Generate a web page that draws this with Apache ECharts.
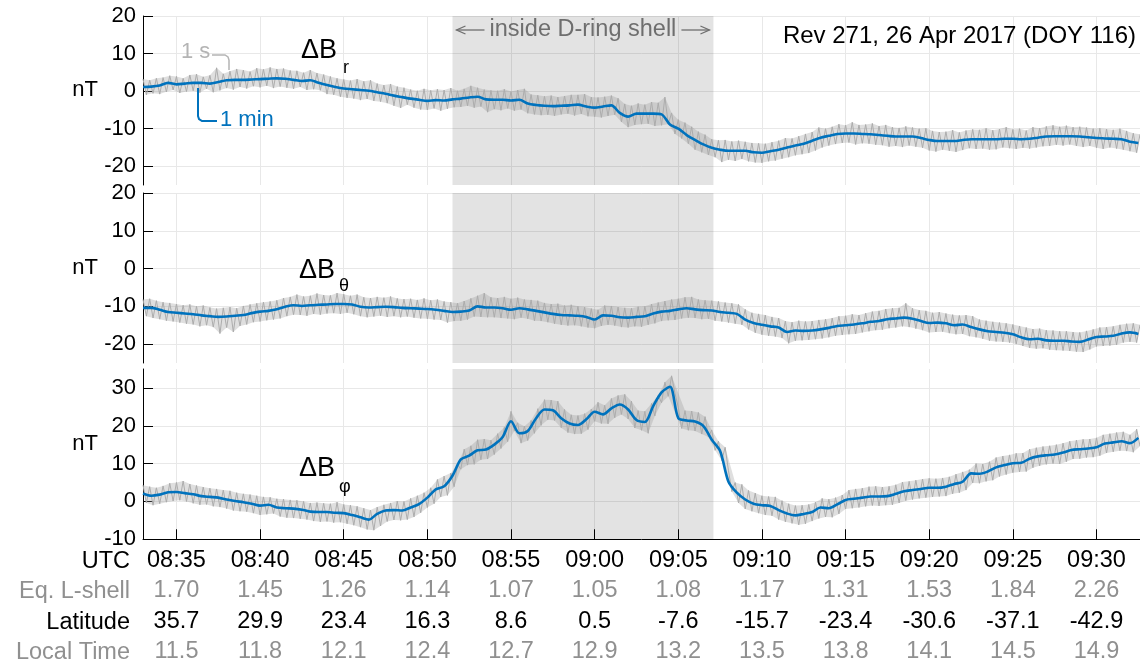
<!DOCTYPE html>
<html>
<head>
<meta charset="utf-8">
<script src="https://cdn.jsdelivr.net/npm/echarts@6/dist/echarts.min.js"></script>
<style>html,body{margin:0;padding:0;background:#fff}#c{width:1140px;height:664px}</style>
</head>
<body>
<div id="c"></div>
<script>
const FONT = "'Liberation Sans', Arial, Helvetica, sans-serif";

// time axis in minutes after 08:00 UTC
const tStart = 33;
const tEnd = 92.6;
const blueStep = 0.5;   // 1-min averaged trace, sampled every 30 s
const grayStep = 0.2;   // 1-s trace, sampled every 12 s
const tickTimes = [35, 40, 45, 50, 55, 60, 65, 70, 75, 80, 85, 90];
const utcLabels = ['08:35','08:40','08:45','08:50','08:55','09:00','09:05','09:10','09:15','09:20','09:25','09:30'];
const lShell = ['1.70','1.45','1.26','1.14','1.07','1.05','1.08','1.17','1.31','1.53','1.84','2.26'];
const latitude = ['35.7','29.9','23.4','16.3','8.6','0.5','-7.6','-15.7','-23.4','-30.6','-37.1','-42.9'];
const localTime = ['11.5','11.8','12.1','12.4','12.7','12.9','13.2','13.5','13.8','14.1','14.5','14.9'];
const rowNames = ['UTC', 'Eq. L-shell', 'Latitude', 'Local Time'];

const yTicks12 = [-20, -10, 0, 10, 20];
const yTicks3 = [-10, 0, 10, 20, 30];
const dRing = [51.5, 67.1];

// 1-min (blue) traces
const brMin = [1.1,1.2,1.5,2.2,1.8,2.0,2.2,2.2,2.0,2.4,
 2.9,3.0,3.0,3.1,3.2,3.3,3.4,3.3,3.0,2.7,
 2.9,2.2,1.6,1.1,0.7,0.5,0.3,0.1,-0.3,-0.7,
 -1.2,-1.6,-2.0,-2.3,-2.6,-2.4,-2.5,-2.2,-2.0,-1.7,
 -1.5,-2.2,-2.3,-2.3,-2.5,-2.3,-3.3,-3.7,-3.9,-4.0,
 -3.9,-3.8,-3.6,-4.1,-4.4,-4.1,-3.8,-5.8,-6.8,-6.0,
 -6.0,-6.0,-6.2,-8.9,-10.0,-11.7,-13.0,-14.2,-15.1,-15.6,
 -15.9,-15.9,-15.9,-16.3,-16.4,-16.0,-15.6,-15.0,-14.5,-14.0,
 -13.2,-12.4,-11.9,-11.4,-11.3,-11.3,-11.4,-11.5,-11.7,-11.9,
 -12.1,-12.1,-12.1,-12.5,-13.0,-13.3,-13.3,-13.3,-13.0,-12.8,
 -12.8,-12.8,-12.8,-12.7,-12.7,-12.8,-12.7,-12.4,-12.1,-12.0,
 -12.0,-12.0,-12.1,-12.3,-12.5,-12.6,-12.7,-12.8,-13.5,-13.8];
const bthMin = [-10.4,-10.4,-10.9,-11.5,-11.7,-11.9,-12.1,-12.4,-12.6,-12.8,
 -12.7,-12.5,-12.3,-11.8,-11.4,-11.2,-10.8,-10.1,-9.7,-9.9,
 -9.7,-9.6,-9.5,-9.4,-9.4,-9.5,-10.1,-10.3,-10.2,-10.1,
 -10.2,-10.4,-10.5,-10.6,-10.7,-10.9,-11.2,-11.5,-11.4,-11.1,
 -10.0,-10.3,-10.3,-10.5,-10.9,-10.5,-10.8,-11.2,-11.6,-12.0,
 -12.3,-12.4,-12.5,-12.8,-13.5,-12.4,-12.5,-12.9,-13.0,-12.8,
 -12.6,-11.9,-11.4,-11.2,-10.8,-10.5,-10.8,-11.0,-11.1,-11.5,
 -11.7,-12.0,-13.5,-14.4,-14.9,-15.3,-15.6,-16.8,-16.4,-16.5,
 -16.4,-16.1,-15.7,-15.2,-15.0,-14.8,-14.5,-14.1,-13.9,-13.4,
 -13.2,-13.0,-13.3,-13.9,-14.4,-14.3,-14.5,-15.0,-14.8,-15.5,
 -16.1,-16.6,-16.8,-17.0,-17.4,-18.2,-18.7,-18.6,-19.0,-19.1,
 -19.1,-19.3,-19.4,-18.8,-18.1,-18.0,-17.8,-17.2,-16.9,-17.3];
const bphMin = [2.1,1.5,1.8,2.4,2.5,2.2,1.9,1.4,1.2,1.0,
 0.5,0.1,-0.2,-0.6,-1.1,-0.9,-1.6,-1.8,-1.9,-2.2,
 -2.7,-2.8,-2.8,-3.0,-3.1,-3.6,-4.2,-4.8,-3.3,-2.4,
 -2.3,-2.4,-1.6,-0.7,1.0,3.2,4.0,6.8,11.1,12.1,
 13.5,13.7,15.0,17.0,21.2,18.0,18.6,22.0,24.3,24.1,
 22.0,20.6,20.2,21.7,23.7,23.0,24.6,25.6,24.3,21.5,
 21.0,25.2,28.8,30.3,22.0,21.4,21.1,19.9,16.3,13.3,
 5.2,2.3,0.5,-0.6,-1.0,-1.2,-2.3,-3.2,-3.7,-3.3,
 -2.8,-1.6,-1.8,-0.8,0.4,0.7,1.0,1.3,1.3,1.4,
 2.0,2.7,3.0,3.3,3.6,3.6,3.9,4.6,5.2,7.4,
 7.3,7.9,9.0,9.6,10.1,10.2,11.3,11.9,12.2,12.4,
 12.9,13.6,13.8,14.0,14.3,15.3,15.6,15.9,15.4,16.8];

// 1-s (gray) traces
const brSec = [3.2,-1.0,2.9,-0.6,3.4, -0.8,3.6,-0.2,4.1,0.3, 3.9,-0.5,3.4,-0.1,4.3, 0.1,4.5,-0.4,3.8,0.6,
 4.2,-0.3,6.2,0.2,4.6, 0.8,5.3,0.4,5.9,1.1, 5.6,0.7,5.2,1.3,6.1, 1.0,5.8,1.4,6.3,0.8,
 5.9,1.2,6.0,0.9,5.5, 0.6,5.4,1.1,4.9,0.3, 5.6,0.5,4.8,0.2,4.4, -0.8,3.9,-1.0,3.4,-1.5,
 3.1,-1.8,2.8,-2.0,3.2, -2.4,2.6,-2.1,2.9,-2.6, 2.0,-2.8,1.6,-3.2,1.9, -3.9,1.2,-4.5,0.9,-3.6,
 0.4,-4.4,0.1,-4.9,0.6, -5.0,0.2,-4.6,0.5,-5.2, 0.3,-4.7,0.8,-4.3,0.1, -4.2,0.6,-3.9,1.4,-4.4,
 0.9,-4.1,0.4,-5.6,0.2, -4.8,0.1,-5.1,0.5,-4.6, -0.1,-5.2,0.3,-4.9,0.6, -5.9,-0.9,-6.2,-1.1,-6.4,
 -1.4,-6.3,-1.2,-6.6,-1.6, -6.2,-1.3,-6.0,-1.0,-6.5, -1.0,-6.1,-0.8,-6.7,-1.6, -6.8,-1.7,-7.0,-1.5,-6.6,
 -1.2,-6.3,-1.9,-8.2,-3.4, -9.6,-3.9,-9.0,-3.3,-8.8, -3.6,-8.7,-2.9,-9.3,-3.1, -9.1,-1.6,-8.8,-5.8,-11.4,
 -7.6,-12.6,-8.4,-14.0,-9.5, -15.6,-10.8,-16.3,-11.6,-17.0, -12.8,-17.6,-13.1,-18.9,-13.0, -18.3,-13.4,-18.6,-13.2,-18.1,
 -13.5,-18.7,-13.8,-19.0,-13.9, -19.1,-14.0,-18.7,-13.6,-18.5, -13.2,-18.0,-12.5,-17.6,-12.6, -17.1,-12.0,-16.8,-11.4,-16.5,
 -10.9,-15.8,-9.7,-15.0,-10.0, -14.5,-9.5,-14.1,-8.8,-13.8, -9.1,-13.7,-8.3,-14.2,-9.0, -13.9,-8.9,-14.0,-8.6,-14.3,
 -9.3,-14.4,-9.0,-14.8,-9.6, -14.6,-9.8,-14.9,-9.4,-14.5, -9.7,-14.8,-10.0,-15.1,-9.9, -15.8,-10.6,-16.1,-10.9,-15.6,
 -10.8,-15.9,-10.4,-16.2,-11.0, -15.7,-10.5,-15.2,-10.2,-15.4, -10.3,-15.3,-9.9,-15.6,-10.4, -15.5,-10.1,-15.0,-9.6,-15.2,
 -10.2,-15.4,-10.0,-15.1,-10.5, -15.3,-9.6,-15.0,-9.9,-14.7, -9.4,-14.6,-9.1,-14.3,-9.5, -14.5,-9.2,-14.2,-9.6,-14.6,
 -9.5,-14.9,-9.7,-14.6,-10.0, -15.1,-9.9,-15.4,-10.1,-15.0, -10.3,-15.3,-10.0,-15.6,-10.6, -16.0,-11.2,-16.4,-11.5];
const bthSec = [-8.2,-12.6,-8.0,-13.1,-8.5, -13.4,-8.9,-13.8,-9.1,-14.0, -9.4,-14.3,-9.7,-14.6,-9.5, -14.8,-10.0,-15.3,-9.8,-15.0,
 -10.3,-15.5,-10.6,-17.2,-10.4, -15.6,-10.2,-16.8,-10.5,-15.2, -9.9,-14.8,-9.5,-14.2,-9.2, -14.0,-8.9,-13.7,-8.7,-13.5,
 -8.4,-13.2,-7.8,-12.6,-7.5, -12.2,-6.9,-12.3,-7.4,-12.5, -7.2,-12.0,-6.6,-12.2,-7.0, -11.9,-7.1,-11.8,-6.5,-12.0,
 -6.8,-11.7,-7.2,-12.1,-6.9, -12.6,-7.6,-12.9,-7.8,-12.7, -7.5,-12.5,-7.7,-12.8,-7.4, -12.6,-7.9,-12.9,-8.1,-12.7,
 -8.0,-13.0,-8.3,-13.2,-7.9, -13.3,-8.4,-13.5,-8.2,-13.6, -8.7,-14.3,-8.9,-13.9,-9.2, -13.8,-8.6,-13.5,-7.9,-12.7,
 -7.2,-12.8,-6.5,-12.9,-7.6, -12.9,-7.8,-13.1,-7.5,-13.2, -8.0,-13.4,-7.7,-13.0,-8.2, -13.3,-8.3,-13.8,-8.5,-13.9,
 -9.1,-14.2,-9.4,-14.6,-9.3, -14.9,-9.8,-15.1,-9.6,-15.0, -10.0,-15.3,-10.2,-15.6,-10.6, -15.8,-10.9,-15.2,-9.8,-14.9,
 -9.9,-15.1,-10.2,-15.5,-10.4, -15.6,-10.5,-15.3,-10.1,-15.4, -10.0,-14.9,-9.4,-14.5,-9.0, -13.9,-8.6,-13.7,-8.2,-13.6,
 -8.0,-13.2,-7.6,-13.0,-7.5, -13.1,-8.2,-13.4,-8.4,-13.3, -8.5,-13.8,-8.7,-14.0,-9.0, -14.3,-9.2,-14.6,-9.5,-14.9,
 -10.8,-16.1,-11.7,-17.0,-12.0, -17.5,-12.3,-17.8,-12.8,-18.0, -13.1,-18.4,-13.9,-19.8,-14.2, -19.1,-13.8,-19.0,-14.0,-18.9,
 -13.9,-18.7,-13.6,-18.5,-13.4, -18.2,-13.1,-17.8,-12.6,-17.6, -12.5,-17.4,-12.1,-17.3,-12.3, -16.9,-11.8,-16.6,-11.4,-16.3,
 -11.2,-16.2,-10.7,-15.8,-10.5, -15.6,-10.4,-15.3,-9.2,-15.5, -10.5,-15.9,-11.0,-16.3,-11.2, -16.9,-11.7,-16.8,-11.5,-16.7,
 -11.9,-17.1,-12.2,-17.4,-12.4, -17.3,-12.3,-17.9,-12.6,-18.2, -13.5,-18.6,-13.8,-19.1,-14.1, -19.3,-14.3,-19.4,-14.5,-19.6,
 -14.8,-20.0,-15.2,-20.5,-15.6, -21.0,-16.0,-21.2,-15.9,-21.1, -16.3,-21.5,-16.4,-21.6,-16.6, -21.7,-16.6,-21.8,-16.8,-22.0,
 -16.9,-22.1,-16.5,-21.4,-16.1, -20.6,-15.6,-20.5,-15.5,-20.4, -15.3,-20.2,-14.9,-19.6,-14.6, -19.4,-14.5,-19.6,-14.9];
const bphSec = [4.3,-0.4,3.9,-1.0,3.6, -0.6,4.1,-0.2,4.8,0.1, 5.0,0.3,5.4,0.0,4.6, -0.5,4.2,-0.9,3.8,-0.8,
 3.5,-1.3,3.3,-1.5,3.0, -1.9,2.8,-2.4,2.3,-2.6, 2.0,-2.7,1.8,-3.1,1.5, -3.6,1.2,-3.4,1.1,-3.2,
 0.7,-4.0,0.6,-4.3,0.4, -4.4,0.3,-4.6,0.0,-4.8, -0.4,-5.2,-0.3,-5.4,-0.5, -5.3,-0.6,-5.6,-0.2,-5.5,
 -0.8,-5.9,-1.0,-6.3,-1.3, -6.8,-1.8,-7.4,-2.3,-7.6, -1.5,-6.5,-0.9,-5.3,-0.4, -4.9,0.1,-5.0,0.0,-4.8,
 0.8,-4.1,1.5,-3.0,2.3, -1.6,3.6,-0.6,5.8,1.2, 6.7,1.6,7.5,3.9,9.8, 8.5,13.8,9.6,14.7,9.8,
 16.3,11.0,16.5,11.2,16.2, 12.4,17.9,14.0,19.6,15.8, 23.8,18.6,20.8,15.4,19.9, 16.1,21.4,18.0,24.5,20.1,
 26.9,21.6,26.8,21.4,26.5, 19.5,24.3,18.2,22.9,17.8, 22.7,17.9,23.2,19.0,24.4, 21.2,26.2,20.6,25.4,20.5,
 27.2,22.1,28.0,23.0,28.3, 21.8,26.5,19.4,24.0,18.8, 23.8,18.0,25.9,22.6,28.0, 26.1,31.5,27.8,33.2,28.5,
 24.9,19.3,24.0,18.8,23.9, 18.6,23.5,17.8,22.4,17.0, 18.9,13.5,15.9,10.8,14.3, 8.1,2.6,5.0,-0.4,4.5,
 -2.0,2.9,-2.6,2.2,-3.1, 1.5,-3.6,1.3,-3.8,1.2, -4.8,0.2,-5.4,-0.6,-5.8, -1.1,-6.2,-1.0,-5.9,-0.8,
 -5.2,-0.2,-4.5,0.8,-4.1, 0.6,-4.2,1.0,-3.3,1.7, -2.0,3.0,-1.8,3.3,-1.6, 3.5,-1.3,3.9,-1.1,4.0,
 -1.2,3.8,-1.0,4.0,-0.9, 4.4,-0.4,5.1,0.2,5.3, 0.5,5.6,0.8,5.9,1.0, 6.1,1.2,6.0,1.3,6.2,
 1.4,6.5,2.0,7.2,2.3, 7.8,3.0,8.4,4.9,10.0, 4.8,9.9,5.3,10.5,5.6, 11.6,6.6,12.0,7.1,12.3,
 7.6,12.7,7.8,12.8,7.9, 13.8,8.9,14.2,9.4,14.5, 9.8,14.7,10.0,15.0,9.9, 15.4,10.5,15.9,11.2,16.2,
 11.3,16.4,11.6,16.5,11.7, 16.8,12.1,17.6,12.8,17.9, 13.1,18.2,13.4,18.4,13.3, 17.6,13.0,19.1,14.6];

function pairs(arr, step) {
  return arr.map((v, i) => [+(tStart + i * step).toFixed(3), v]);
}

const grids = [
  { left: 143, top: 16, width: 997, height: 169 },
  { left: 143, top: 193, width: 997, height: 170 },
  { left: 143, top: 369, width: 997, height: 171 }
];
const yRanges = [[-25, 20, yTicks12], [-25, 20, yTicks12], [-10, 35, yTicks3]];
const GRID_C = '#e8e8e8';
const LINE_H = 30.5;

const xAxes = grids.map((g, i) => {
  const last = i === 2;
  return {
    type: 'value', gridIndex: i, min: tStart, max: tEnd,
    axisLine: { show: last, onZero: false, lineStyle: { color: '#000', width: 1 } },
    axisTick: { show: last, inside: true, length: 10, customValues: tickTimes, lineStyle: { color: '#000', width: 1 } },
    splitLine: { show: true, lineStyle: { color: GRID_C, width: 1 } },
    axisLabel: last ? {
      show: true, customValues: tickTimes, margin: 6, verticalAlign: 'top',
      formatter: function (v) {
        const k = tickTimes.findIndex(t => Math.abs(t - v) < 1e-6);
        if (k < 0) return '';
        return '{u|' + utcLabels[k] + '}\n{g|' + lShell[k] + '}\n{k|' + latitude[k] + '}\n{g|' + localTime[k] + '}';
      },
      rich: {
        u: { fontSize: 23.5, fontFamily: FONT, color: '#000', lineHeight: LINE_H },
        g: { fontSize: 23.5, fontFamily: FONT, color: '#909090', lineHeight: LINE_H },
        k: { fontSize: 23.5, fontFamily: FONT, color: '#000', lineHeight: LINE_H }
      }
    } : { show: false }
  };
});

const yAxes = grids.map((g, i) => ({
  type: 'value', gridIndex: i, min: yRanges[i][0], max: yRanges[i][1],
  axisLine: { show: true, onZero: false, lineStyle: { color: '#000', width: 1 } },
  axisTick: { show: true, inside: true, length: 10, customValues: yRanges[i][2], lineStyle: { color: '#000', width: 1 } },
  axisLabel: { show: true, customValues: yRanges[i][2], margin: 7, fontSize: 22, fontFamily: FONT, color: '#000' },
  splitLine: { show: true, lineStyle: { color: GRID_C, width: 1 } }
}));

const secData = [brSec, bthSec, bphSec];
const minData = [brMin, bthMin, bphMin];

// light band spanning the extremes of the 1-s trace (drawn through the axes' scales)
function bandRenderer(arr) {
  return function (params, api) {
    const ups = [], downs = [];
    for (let j = 0; j < arr.length; j++) {
      const a = j > 0 ? arr[j - 1] : arr[j + 1];
      const b = j < arr.length - 1 ? arr[j + 1] : arr[j - 1];
      const t = tStart + j * grayStep;
      if (arr[j] >= a && arr[j] >= b) ups.push(api.coord([t, arr[j]]));
      if (arr[j] <= a && arr[j] <= b) downs.push(api.coord([t, arr[j]]));
    }
    const pts = ups.concat(downs.reverse());
    return { type: 'polygon', shape: { points: pts }, style: { fill: 'rgba(150,150,150,0.3)' }, silent: true };
  };
}

const series = [];
for (let i = 0; i < 3; i++) {
  series.push({
    type: 'custom', xAxisIndex: i, yAxisIndex: i, data: [[tStart, 0]],
    renderItem: bandRenderer(secData[i]), silent: true, z: 2, clip: true,
    markArea: {
      silent: true, z: 1,
      itemStyle: { color: 'rgba(0,0,0,0.11)' },
      data: [[{ xAxis: dRing[0] }, { xAxis: dRing[1] }]]
    }
  });
  series.push({
    type: 'line', xAxisIndex: i, yAxisIndex: i, data: pairs(secData[i], grayStep),
    showSymbol: false, symbol: 'none', silent: true, z: 3,
    lineStyle: { color: '#acacac', width: 1 }
  });
  series.push({
    type: 'line', xAxisIndex: i, yAxisIndex: i, data: pairs(minData[i], blueStep),
    showSymbol: false, symbol: 'none', silent: true, z: 4, smooth: 0.3,
    lineStyle: { color: '#0072bd', width: 2.6 }
  });
}

function txt(x, y, text, size, color, align) {
  return { type: 'text', x: x, y: y, silent: true, z: 100,
    style: { text: text, fill: color, font: size + 'px ' + FONT,
      align: align || 'left', textAlign: align || 'left', verticalAlign: 'middle', textVerticalAlign: 'middle' } };
}

const chart = echarts.init(document.getElementById('c'), null, { renderer: 'canvas' });
chart.setOption({
  animation: false,
  backgroundColor: '#fff',
  grid: grids,
  xAxis: xAxes,
  yAxis: yAxes,
  series: series
});

const xs = chart.convertToPixel({ gridIndex: 0 }, [dRing[0], 0])[0];
const xe = chart.convertToPixel({ gridIndex: 0 }, [dRing[1], 0])[0];
const ay = 30;
const ARC = '#6e6e6e';
const graphics = [
  txt((xs + xe) / 2, ay, 'inside D-ring shell', 23.5, ARC, 'center'),
  { type: 'line', silent: true, z: 100, shape: { x1: xs + 4, y1: ay, x2: xs + 32, y2: ay }, style: { stroke: ARC, lineWidth: 1.3 } },
  { type: 'polyline', silent: true, z: 100, shape: { points: [[xs + 13, ay - 4], [xs + 4, ay], [xs + 13, ay + 4]] }, style: { stroke: ARC, lineWidth: 1.3, fill: null } },
  { type: 'line', silent: true, z: 100, shape: { x1: xe - 32, y1: ay, x2: xe - 4, y2: ay }, style: { stroke: ARC, lineWidth: 1.3 } },
  { type: 'polyline', silent: true, z: 100, shape: { points: [[xe - 13, ay - 4], [xe - 4, ay], [xe - 13, ay + 4]] }, style: { stroke: ARC, lineWidth: 1.3, fill: null } },
  txt(1136, 36, 'Rev 271, 26 Apr 2017 (DOY 116)', 24, '#000', 'right'),
  txt(98, 90, 'nT', 22, '#000', 'right'),
  txt(98, 268, 'nT', 22, '#000', 'right'),
  txt(98, 444, 'nT', 22, '#000', 'right'),
  txt(301, 51, '\u0394B', 27, '#000', 'left'),
  txt(343, 68, 'r', 18, '#000', 'left'),
  txt(299, 271, '\u0394B', 27, '#000', 'left'),
  txt(339, 286, '\u03b8', 18, '#000', 'left'),
  txt(299, 469, '\u0394B', 27, '#000', 'left'),
  txt(339, 487, '\u03c6', 18, '#000', 'left'),
  txt(181, 52, '1 s', 22, '#b4b4b4', 'left'),
  { type: 'polyline', silent: true, z: 100, shape: { points: [[212, 55], [225, 55], [228, 57], [229, 60], [229, 70]] }, style: { stroke: '#b4b4b4', lineWidth: 1.5, fill: null } },
  txt(220, 120, '1 min', 22, '#0072bd', 'left'),
  { type: 'polyline', silent: true, z: 100, shape: { points: [[198, 88], [198, 116], [199, 119], [202, 121], [217, 121]] }, style: { stroke: '#0072bd', lineWidth: 2, fill: null } }
];
const rowColors = ['#000', '#909090', '#000', '#909090'];
rowNames.forEach((n, k) => {
  graphics.push(txt(130, 540 + 6 + LINE_H / 2 + k * LINE_H, n, 23.5, rowColors[k], 'right'));
});
chart.setOption({ graphic: graphics });
</script>
</body>
</html>
